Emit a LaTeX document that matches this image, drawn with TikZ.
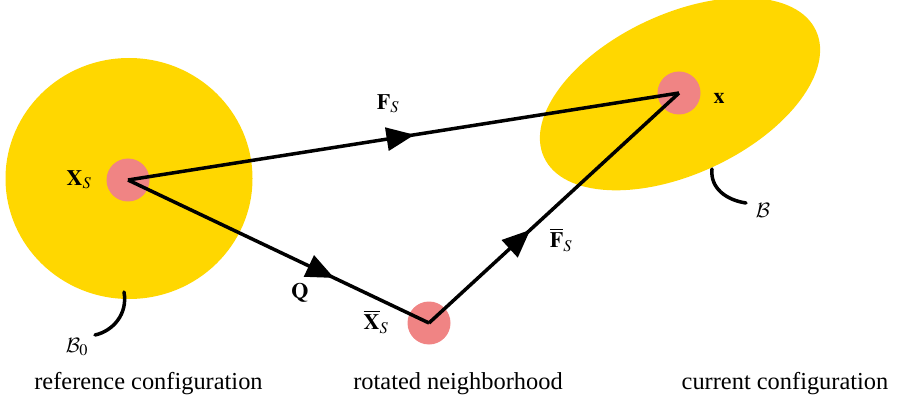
\documentclass[tikz,border=0pt]{standalone}
\usepackage{mathptmx}
\usepackage[no-math]{fontspec}
\setmainfont{Liberation Serif}
\DeclareMathAlphabet{\mathcal}{OMS}{cmsy}{m}{n}
\usetikzlibrary{arrows.meta,decorations.markings}
\definecolor{bodyfill}{HTML}{FFD700}
\definecolor{pointfill}{HTML}{F08484}
\definecolor{ink}{HTML}{000000}
\tikzset{
  font=\fontsize{22}{26}\selectfont,
  point/.style={
    circle,
    fill=pointfill,
    inner sep=0pt,
    minimum size=43pt
  },
  map/.style={
    draw=ink,
    line width=3.5pt,
    postaction={decorate},
    decoration={markings,
      mark=at position #1 with {\arrow{Triangle[length=28pt,width=23pt]}}}
  },
  leader/.style={
    draw=ink,
    line width=3.5pt,
    line cap=round
  },
  caption/.style={
    font=\fontsize{24.4}{28}\selectfont,
    text=ink
  }
}

\begin{document}
\begin{tikzpicture}[x=1pt,y=1pt]
  \useasboundingbox (0,0) rectangle (899,402);

  % bodies
  \fill[bodyfill] (129,223.5) ellipse [x radius=123.5, y radius=120.5];
  \fill[bodyfill, rotate around={25:(680,308)}] (680,308) ellipse [x radius=150, y radius=80];

  % material points
  \node[point] (xs) at (128,222) {};
  \node[point] (xbar) at (429,79) {};
  \node[point] (x) at (679,309) {};

  % maps
  \draw[map=0.52] (xs.center) -- (x.center);
  \draw[map=0.685] (xs.center) -- (xbar.center);
  \draw[map=0.405] (xbar.center) -- (x.center);

  \node (lxs) at (79,222) {$\mathbf{X}_S$};
  \node (lx) at (719,304) {$\mathbf{x}$};
  \node (lxbar) at (376,80) {$\overline{\mathbf{X}}_S$};
  \node (lfs) at (388,298) {$\mathbf{F}_S$};
  \node (lq) at (300,109) {$\mathbf{Q}$};
  \node (lfbar) at (561,162) {$\overline{\mathbf{F}}_S$};

  % body labels
  \node (lb0) at (77,55) {$\mathcal{B}_0$};
  \node (lb) at (763,192) {$\mathcal{B}$};
  \coordinate (b0tip) at (124,110);
  \coordinate (b0end) at (95,67);
  \coordinate (btip) at (712,233);
  \coordinate (bend) at (746,199);
  \draw[leader] (b0tip) .. controls (128,88) and (113,71) .. (b0end);
  \draw[leader] (btip) .. controls (710,214) and (726,202) .. (bend);

  % captions
  \node[caption] (cref) at (148.5,18) {reference configuration};
  \node[caption] (crot) at (458,18) {rotated neighborhood};
  \node[caption] (ccur) at (785,18) {current configuration};
\end{tikzpicture}
\end{document}
